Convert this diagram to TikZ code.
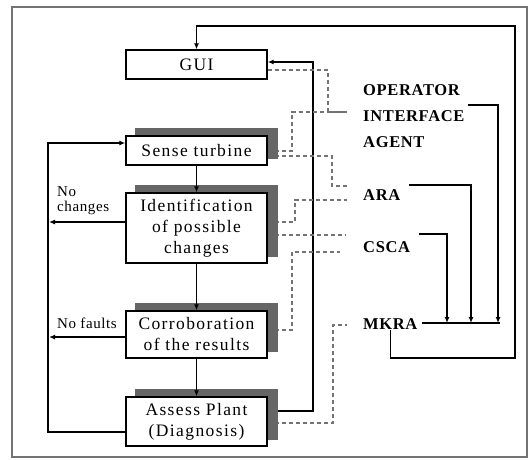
\documentclass[tikz,border=0pt]{standalone}
\usepackage{fontspec}
\setmainfont{Liberation Serif}[LetterSpace=4.0]
\usetikzlibrary{arrows.meta,shadows}
\pgfdeclarelayer{background}
\pgfsetlayers{background,main}
\begin{document}
\begin{tikzpicture}[x=1pt,y=-1pt,
  box/.style={draw=black,line width=1.4pt,fill=white,minimum width=141pt,inner sep=0pt,align=center,font=\fontsize{17.5}{21}\selectfont\addfontfeatures{LetterSpace=8.0}},
  sbox/.style={box,copy shadow={shadow xshift=10pt,shadow yshift=7pt,fill=black!60,draw=black!60}},
  lab/.style={anchor=west,inner sep=0pt,font=\fontsize{16.5}{20}\selectfont\bfseries},
  small/.style={anchor=west,inner sep=0pt,font=\fontsize{15}{18}\selectfont},
  conn/.style={line width=1.3pt,black},
  arr/.style={conn,-{Latex[length=6pt,width=5pt]}},
  dsh/.style={line width=1.1pt,black!55,dash pattern=on 4pt off 3pt}]
\useasboundingbox (0,0) rectangle (529,459);
\draw[black!55,line width=1.6pt] (12,7) rectangle (527,457);

% boxes
\node[box,minimum height=29pt] (gui) at (196.5,64.5) {GUI};
\node[sbox,minimum height=29pt] (sense) at (196.5,150.5) {Sense turbine};
\node[sbox,minimum height=70pt] (ident) at (196.5,228) {Identification\\of possible\\changes};
\node[sbox,minimum height=47pt] (corr) at (196.5,334.5) {Corroboration\\of the results};
\node[sbox,minimum height=49pt] (assess) at (196.5,421.5) {Assess Plant\\(Diagnosis)};

% agent labels
\node[lab] (op) at (363,90) {OPERATOR};
\node[lab] (inter) at (363,116) {INTERFACE};
\node[lab] (agent) at (363,142) {AGENT};
\node[lab] (ara) at (363,195) {ARA};
\node[lab] (csca) at (363,247) {CSCA};
\node[lab] (mkra) at (363,324) {MKRA};

% small labels
\node[small] (nc1) at (57,192) {No};
\node[small] (nc2) at (57,208) {changes};
\node[small] (nf) at (57,323) {No faults};

% coordinates
\coordinate (oiaout) at (468,105);
\coordinate (oiain) at (498,323);
\coordinate (araout) at (409,185);
\coordinate (arain) at (471,323);
\coordinate (cscaout) at (419,234);
\coordinate (cscain) at (447,323);
\coordinate (mkend) at (500,323);
\coordinate (oia1) at (347,112);
\coordinate (ara1) at (347,186);
\coordinate (ara2) at (347,200);
\coordinate (csca1) at (345,235);
\coordinate (csca2) at (340,252);
\coordinate (mkra1) at (347,325);
\coordinate (ncend) at (49,222);
\coordinate (nfend) at (49,337);

% main flow
\draw[arr] (sense.south) -- (ident.north);
\draw[arr] (ident.south) -- (corr.north);
\draw[arr] (corr.south) -- (assess.north);

\begin{pgfonlayer}{background}
\draw[arr] (assess.west |- 0,432) -- (48,432) -- (48,143) -- (sense.west |- 0,143);
\draw[arr] (ident.west |- 0,222) -- (ncend);
\draw[arr] (corr.west |- 0,337) -- (nfend);
\draw[arr] (assess.east |- 0,411) -- (313,411) -- (313,62) -- (gui.east |- 0,62);
\draw[arr] (mkra.south) -- (mkra.south |- 0,358) -- (515,358) -- (515,26) -- (gui.north |- 0,26) -- (gui.north);

% dashed links
\draw[dsh] (gui.east |- 0,70) -- (328,70) -- (328,112) -- (oia1);
\draw[dsh] (sense.east |- 0,151) -- (292,151) -- (292,112) -- (oia1);
\draw[dsh] (sense.east |- 0,156) -- (332,156) -- (332,186) -- (ara1);
\draw[dsh] (ident.east |- 0,222) -- (295,222) -- (295,200) -- (ara2);
\draw[dsh] (ident.east |- 0,235) -- (csca1);
\draw[dsh] (corr.east |- 0,330) -- (292,330) -- (292,252) -- (csca2);
\draw[dsh] (assess.east |- 0,423) -- (333,423) -- (333,325) -- (mkra1);
\end{pgfonlayer}

% agent connections
\draw[conn] (mkra.east) ++(4,-1) -- (mkend);
\draw[arr] (oiaout) -| (oiain);
\draw[arr] (araout) -| (arain);
\draw[arr] (cscaout) -| (cscain);
\end{tikzpicture}
\end{document}
